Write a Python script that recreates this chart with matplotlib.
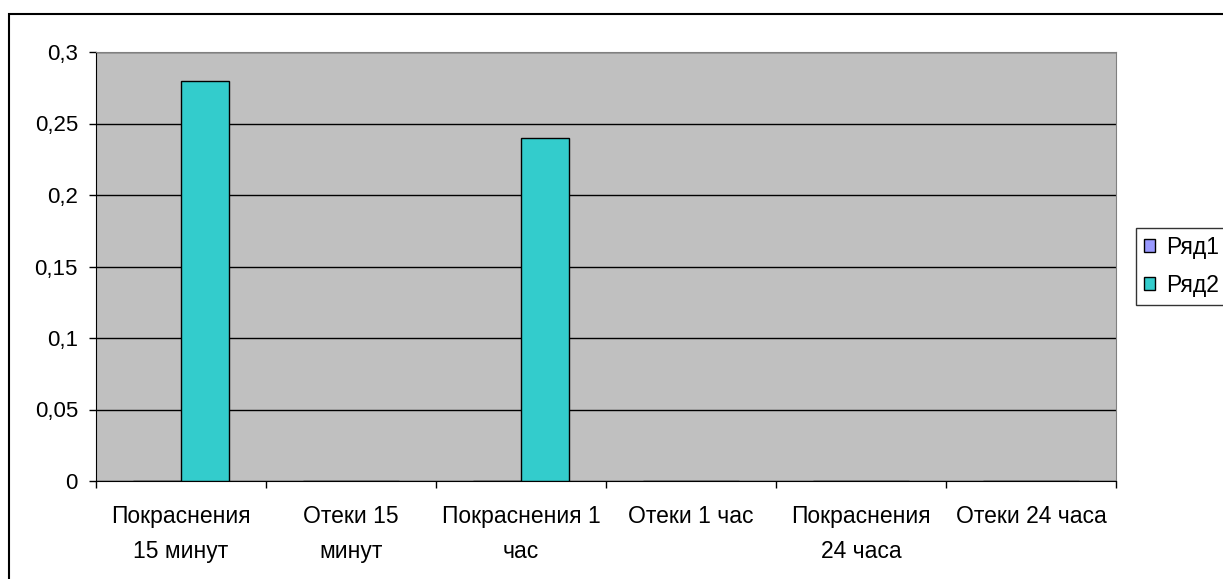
import numpy as np
import matplotlib.pyplot as plt
import matplotlib.patches as patches
from matplotlib.ticker import FuncFormatter, FixedLocator

## Data
categories = ["Покраснения\n15 минут", "Отеки 15\nминут", "Покраснения 1\nчас",
              "Отеки 1 час", "Покраснения\n24 часа", "Отеки 24 часа"]
series_names = ["Ряд1", "Ряд2"]
ryad1 = [0, 0, 0, 0, 0, 0]
ryad2 = [0.28, 0, 0.24, 0, 0, 0]
yticks = [0, 0.05, 0.1, 0.15, 0.2, 0.25, 0.3]

plt.rcParams['font.family'] = ['Liberation Sans', 'DejaVu Sans']
fs = 16.5

W, H = 1223, 579
fig = plt.figure(figsize=(W/100, H/100), dpi=100)
ax = fig.add_axes([96/W, 1-481/H, (1116-96)/W, (481-52)/H])

## outer chart border
fig.patches.append(patches.Rectangle((9/W, -0.05), 1.1, 1-14/H+0.05,
    transform=fig.transFigure, fill=False, edgecolor="black", lw=1.5, clip_on=False))

x = np.arange(len(categories))
bw = 0.282
ax.set_facecolor("#C0C0C0")
ax.bar(x-bw/2, ryad1, bw, color="#9999FF", edgecolor="black", lw=1, label=series_names[0], zorder=3)
ax.bar(x+bw/2, ryad2, bw, color="#33CCCC", edgecolor="black", lw=1, label=series_names[1], zorder=3)

ax.set_xlim(-0.5, len(categories)-0.5)
ax.set_ylim(0, 0.3)
ax.set_yticks(yticks)
ax.yaxis.set_major_formatter(FuncFormatter(lambda v, p: ("%g" % v).replace(".", ",")))
ax.grid(axis="y", color="black", lw=1, zorder=1)
ax.set_axisbelow(True)

ax.set_xticks(x)
ax.set_xticklabels(categories, fontsize=fs, linespacing=1.7)
ax.xaxis.set_minor_locator(FixedLocator(np.arange(len(categories)+1)-0.5))
ax.tick_params(axis="x", which="major", length=0, pad=17)
ax.tick_params(axis="x", which="minor", length=5, width=1, direction="out")
ax.tick_params(axis="y", length=5, width=1, direction="out", labelsize=16, pad=8)

for s in ["top", "right"]:
    ax.spines[s].set_color("#808080")
ax.spines["left"].set_color("black")
ax.spines["bottom"].set_color("black")

leg = fig.legend(loc="upper left", bbox_to_anchor=(1136/W, 1-228/H), fontsize=fs,
                 frameon=True, fancybox=False, edgecolor="black", handlelength=0.5,
                 handleheight=0.5, handletextpad=0.45, borderpad=0.35, labelspacing=0.65,
                 borderaxespad=0)
leg.get_frame().set_linewidth(1)

fig.savefig("out.png", dpi=100)
